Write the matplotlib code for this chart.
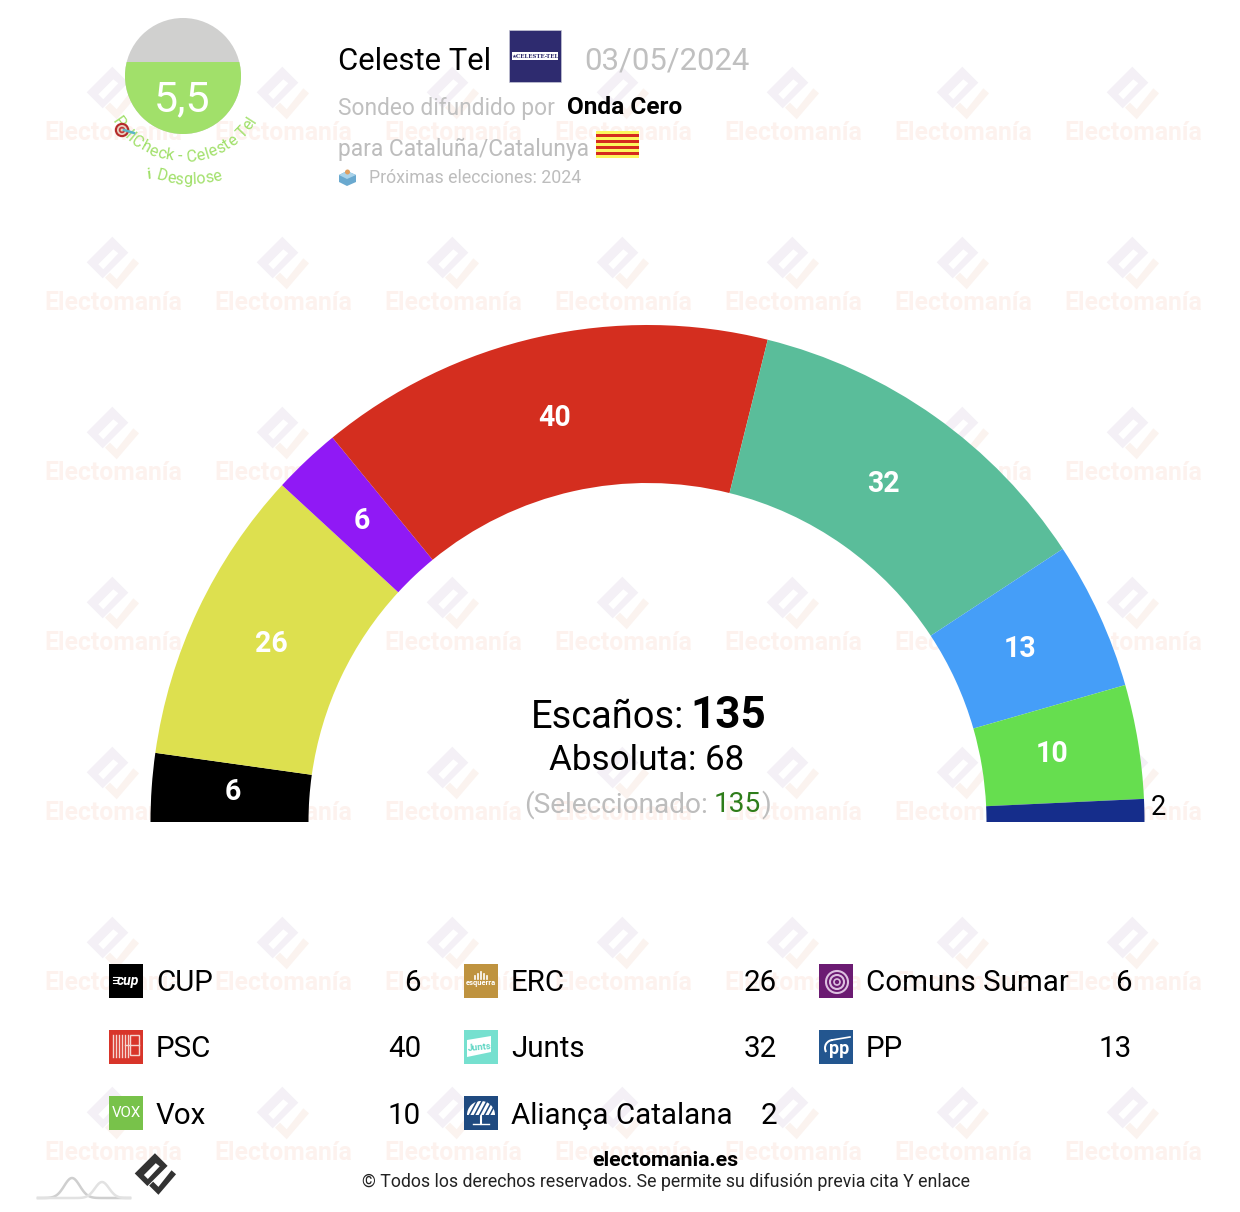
import numpy as np
import matplotlib
matplotlib.use("Agg")
import matplotlib.pyplot as plt
from matplotlib.patches import Wedge, Circle, Rectangle, Polygon
from matplotlib.font_manager import FontProperties, findfont, get_font

plt.rcParams['font.family'] = ['Roboto', 'DejaVu Sans']

# Data
parties = ["CUP", "ERC", "Comuns Sumar", "PSC", "Junts", "PP", "Vox", "Aliança Catalana"]
seats = [6, 26, 6, 40, 32, 13, 10, 2]
colors = ["#000000", "#dde04f", "#9019f5", "#d42e1f", "#5abd9a", "#459ef8", "#66de4f", "#152d8b"]
logo_colors = ["#000000", "#bf933f", "#6b1b72", "#d8352a", "#76e0cf", "#23568f", "#78c24a", "#1f4a80"]
total_seats = 135
majority = 68
selected = 135
score = 5.5
pollster = "Celeste Tel"
poll_date = "03/05/2024"
media = "Onda Cero"

fig = plt.figure(figsize=(12.4, 12.12), dpi=100)
ax = fig.add_axes([0, 0, 1, 1])
ax.set_xlim(0, 1240)
ax.set_ylim(1212, 0)
ax.axis('off')


def px(size):
    return size * 0.72


# Watermark tiles
diamond = np.array([(-0.7, -64.3), (15.3, -48.3), (-10.3, -22.7), (-26.3, -38.7)])
slit = np.array([(-14.7, -36.7), (0.3, -51.7), (5.3, -47.7), (-9.7, -31.7)])
stroke = np.array([(20.3, -42.7), (26, -37.7), (3.7, -11.7), (-8, -23.3), (-3, -28.3), (3.7, -21.7)])

for ty in range(131, 1152, 170):
    for tx in range(113, 1290, 170):
        off = np.array([tx, ty + 0.0])
        ax.add_patch(Polygon(diamond + off, color="#f4f0f6", lw=0, zorder=1))
        ax.add_patch(Polygon(slit + off, color="white", lw=0, zorder=1))
        ax.add_patch(Polygon(stroke + off, color="#fbf3ef", lw=0, zorder=1))
        ax.text(tx, ty + 2, "Electomanía", ha='center', va='center', fontsize=px(24.8), fontweight='bold',
                color="#fdf2ee", zorder=1, clip_on=True)

# Hemicycle
cx, cy = 647.5, 822
r_out, r_in = 497, 339
label_cx, label_cy, label_r = 645, 820.5, 413
angle = 180.0
for i in range(len(seats)):
    sweep = seats[i] / total_seats * 180
    ax.add_patch(Wedge((cx, cy), r_out, angle, angle + sweep, width=r_out - r_in,
                       facecolor=colors[i], edgecolor='none', zorder=2))
    mid = np.radians(angle + sweep / 2)
    if seats[i] > 2:
        ax.text(label_cx + label_r * np.cos(mid), label_cy + label_r * np.sin(mid) + 0.5, str(seats[i]), color='white',
                ha='center', va='center', fontsize=px(28.5), fontweight='bold', zorder=3)
    else:
        ax.text(cx + 511 * np.cos(mid), cy + 511 * np.sin(mid) - 2.5, str(seats[i]), color='black',
                ha='center', va='center', fontsize=px(27), zorder=3)
    angle += sweep

# Centre text
ax.text(531, 717, "Escaños:", ha='left', va='center', fontsize=px(38), color='black', zorder=3)
ax.text(690, 716, str(total_seats), ha='left', va='center', fontsize=px(44), fontweight='bold', zorder=3)
ax.text(647, 761, f"Absoluta: {majority}", ha='center', va='center', fontsize=px(35), zorder=3)
ax.text(524, 805, "(Seleccionado:", ha='left', va='center', fontsize=px(28), color="#bdbdbd", zorder=3)
ax.text(714, 805, str(selected), ha='left', va='center', fontsize=px(28), color="#2e7d1a", zorder=3)
ax.text(761, 805, ")", ha='left', va='center', fontsize=px(28), color="#bdbdbd", zorder=3)

# Score gauge
gauge = Circle((183, 76), 58, facecolor="#d0d0cf", edgecolor='none', zorder=3)
ax.add_patch(gauge)
level = Rectangle((120, 62), 126, 80, facecolor="#a1e06a", edgecolor='none', zorder=3)
ax.add_patch(level)
level.set_clip_path(gauge)
ax.text(182, 100, f"{score:.1f}".replace(".", ","), color='white', ha='center', va='center',
        fontsize=px(43), zorder=4)


def curved(text, radius, x0, y0, size, color):
    # place letters one by one along the lower arc
    font = get_font(findfont(FontProperties(family='Roboto')))
    font.set_size(px(size), 100)
    widths = [font.load_char(ord(ch)).linearHoriAdvance / 65536 for ch in text]
    pos = -sum(widths) / 2
    for ch, w in zip(text, widths):
        a = (pos + w / 2) / radius
        ax.text(x0 - radius * np.sin(-a), y0 + radius * np.cos(a), ch, rotation=np.degrees(a),
                rotation_mode='anchor', ha='center', va='center', fontsize=px(size), color=color, zorder=4)
        pos += w


curved("PollCheck - Celeste Tel", 81, 184, 76, 16.2, "#a1e06a")
curved("Desglose", 105, 189, 75, 16, "#a1e06a")
ax.text(150, 175, "i", style='italic', fontweight='bold', fontsize=px(14), color="#a1e06a",
        ha='center', va='center', rotation=15, zorder=4)

# target icon
for r, c in [(10, "#b52b2b"), (7, "#e8d0c0"), (4.5, "#c23a3a"), (2, "#e8d0c0")]:
    ax.add_patch(Circle((122, 130), r * 0.72, facecolor=c, edgecolor='none', zorder=5))
ax.plot([124, 134], [130, 133], color="#5bb5c8", lw=1.8, zorder=5)

# Header
ax.text(338, 62, pollster, fontsize=px(31), ha='left', va='center', color='black', zorder=3)
ax.add_patch(Rectangle((509, 30), 52, 52, facecolor="#2e2b6f", edgecolor='#c5c5d5', lw=0.5, zorder=3))
ax.add_patch(Rectangle((512, 52), 46, 8, facecolor="white", edgecolor='none', zorder=4))
ax.text(535, 56, "★CELESTE-TEL", fontsize=px(5.5), family=['DejaVu Serif', 'DejaVu Sans'], fontweight='bold',
        color="#2e2b6f", ha='center', va='center', zorder=5)
ax.text(584.5, 61, poll_date, fontsize=px(31.2), ha='left', va='center', color="#c0c0c0", zorder=3)
ax.text(338, 108, "Sondeo difundido por", fontsize=px(22.7), ha='left', va='center', color="#c0c0c0", zorder=3)
ax.text(567, 108, media, fontsize=px(24.4), fontweight='bold', ha='left', va='center', color='black', zorder=3)
ax.text(338, 149, "para Cataluña/Catalunya", fontsize=px(22.8), ha='left', va='center', color="#bdbdbd", zorder=3)
for k in range(9):
    ax.add_patch(Rectangle((596, 131 + k * 3), 43, 3, facecolor="#fcf75e" if k % 2 == 0 else "#d52b1e",
                           edgecolor='none', zorder=3))
ax.text(369, 178, "Próximas elecciones: 2024", fontsize=px(17.7), ha='left', va='center', color="#bdbdbd", zorder=3)

# ballot box icon
ax.add_patch(Polygon([(339, 175), (347, 171), (356, 175), (356, 182), (347, 186), (339, 182)],
                     facecolor="#6aa9cf", edgecolor='none', zorder=3))
ax.add_patch(Polygon([(339, 175), (347, 171), (356, 175), (347, 179)], facecolor="#a9d3ea", edgecolor='none', zorder=4))
ax.add_patch(Circle((347.5, 172), 2.5, facecolor="#e0a060", edgecolor='none', zorder=5))

# Legend
legend_x = [109, 464, 819]
legend_val_x = [421, 777, 1131.5]
legend_y = [981, 1047, 1113]
for i in range(len(parties)):
    row, col = i // 3, i % 3
    x, y = legend_x[col], legend_y[row]
    ax.add_patch(Rectangle((x, y - 17), 34, 34, facecolor=logo_colors[i], edgecolor='none', zorder=3))
    text_y = y + 2.5 if row == 2 else y + 2
    ax.text(x + 47, text_y, parties[i], fontsize=px(29.5), ha='left', va='center', color='black', zorder=3)
    ax.text(legend_val_x[col], text_y, str(seats[i]), fontsize=px(29.5), ha='right', va='center', color='black', zorder=3)

# party logo marks
ax.text(128, 981, "cup", color='white', style='italic', fontweight='bold', fontsize=px(14), ha='center', va='center', zorder=4)
for k in range(3):
    ax.plot([113, 119 - k], [977 + k * 3, 977 + k * 3], color='white', lw=0.8, zorder=4)

ax.text(481, 983, "esquerra", color='white', fontweight='bold', fontsize=px(7.5), ha='center', va='center', zorder=4)
for k, h in zip([-6, -3, 0, 3, 6], [3, 5, 7, 5, 3]):
    ax.plot([481 + k, 481 + k], [979 - h, 979], color='white', lw=1.2, zorder=4)

ax.add_patch(Circle((837, 982), 11, facecolor='none', edgecolor="#dcbfdf", lw=1.5, zorder=4))
ax.add_patch(Circle((837, 982), 7, facecolor='none', edgecolor="#dcbfdf", lw=1.5, zorder=4))
ax.add_patch(Circle((837, 982), 3, facecolor='none', edgecolor="#dcbfdf", lw=1.2, zorder=4))

for k in range(6):
    ax.plot([112.5 + k * 3, 112.5 + k * 3], [1035, 1057], color="#f5d5d0", lw=1, zorder=4)
ax.add_patch(Rectangle((130, 1035), 9, 20, facecolor='none', edgecolor='#f5d5d0', lw=1, zorder=4))
ax.plot([125, 139], [1045, 1045], color='#f5d5d0', lw=1, zorder=4)

ax.add_patch(Polygon([(467, 1040), (491, 1036), (491, 1052), (467, 1057)], facecolor='white', edgecolor='none', zorder=4))
ax.text(479, 1047, "Junts", color="#5fd6c4", fontweight='bold', fontsize=px(9.5), rotation=5, ha='center', va='center', zorder=5)

ax.text(839, 1049, "pp", color='white', fontweight='bold', fontsize=px(18), ha='center', va='center', zorder=4)
ax.add_patch(Wedge((833, 1048), 9, 150, 270, width=2, facecolor='white', edgecolor='none', zorder=4))
ax.plot([832, 850], [1040, 1037], color='white', lw=1.2, zorder=4)

ax.text(126, 1113, "VOX", color='white', fontsize=px(15), ha='center', va='center', zorder=4)

ax.add_patch(Wedge((481, 1115), 14, 180, 360, facecolor="white", edgecolor='none', zorder=4))
for k in range(5):
    ax.plot([469 + k * 5, 477 + k * 5], [1116, 1101], color="#1f4a80", lw=1.1, zorder=5)
ax.plot([481, 481], [1115, 1124], color='white', lw=1.5, zorder=4)
ax.plot([473, 489], [1124, 1124], color='white', lw=1, zorder=4)

# Footer
ax.text(665, 1161, "electomania.es", fontsize=px(21.3), fontweight='bold', ha='center', va='center', zorder=3)
ax.text(666, 1182, "© Todos los derechos reservados. Se permite su difusión previa cita Y enlace",
        fontsize=px(17.75), ha='center', va='center', color='#222222', zorder=3)

# small logo and curve at the bottom left
small_off = np.array([155.5, 1174 + 38 * 0.79])
ax.add_patch(Polygon(diamond * 0.79 + small_off, color="#333333", lw=0, zorder=3))
ax.add_patch(Polygon(slit * 0.79 + small_off, color="white", lw=0, zorder=4))
ax.add_patch(Polygon(stroke * 0.79 + small_off, color="#333333", lw=0, zorder=3))
xs = np.linspace(38, 130, 120)
ax.plot(xs, 1198 - 20 * np.exp(-((xs - 72) / 11) ** 2), color="#cfcfcf", lw=1.8, zorder=3)
ax.plot(xs, 1198 - 16 * np.exp(-((xs - 102) / 10) ** 2), color="#e2e2e2", lw=1.8, zorder=3)

fig.savefig("out.png", dpi=100, facecolor='white')
